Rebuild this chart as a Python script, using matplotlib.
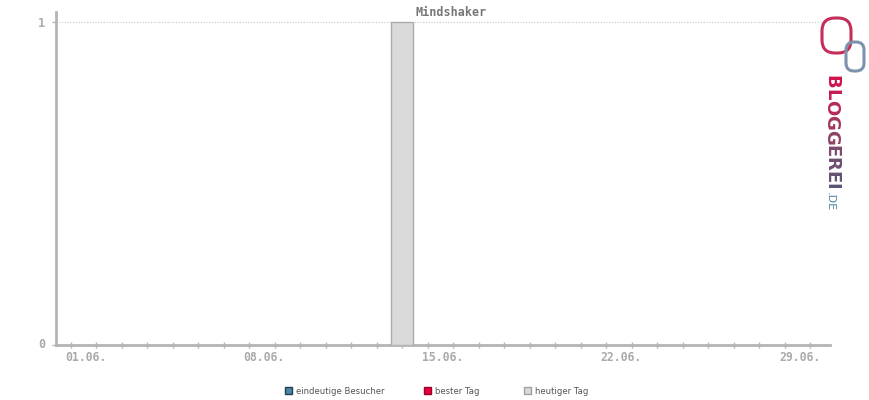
import numpy as np
import matplotlib
matplotlib.use("Agg")
import matplotlib.pyplot as plt
import matplotlib.patches as mpatches
import matplotlib.transforms as mtrans

# data
days = list(range(1, 31))
visitors = [0] * 30           # eindeutige Besucher
today_day = 14                # heutiger Tag
today_value = 1
tick_days = [1, 8, 15, 22, 29]
tick_labels = ['01.06.', '08.06.', '15.06.', '22.06.', '29.06.']
title = 'Mindshaker'
legend_labels = ['eindeutige Besucher', 'bester Tag', 'heutiger Tag']
legend_colors = ['#4d86a6', '#e8003d', '#d9d9d9']
legend_edges = ['#1f3f55', '#a0002a', '#a0a0a0']

axis_grey = '#b4b4b4'
text_grey = '#aaaaaa'

fig = plt.figure(figsize=(8.7, 4), dpi=100)
ax = fig.add_axes([56/870, 1 - 345/400, (830 - 56)/870, (345 - 12)/400])

ax.bar(days, visitors, width=0.86, color='#4d86a6')
ax.bar([today_day], [today_value], width=0.86, color='#dadada',
       edgecolor='#ababab', linewidth=1.0, zorder=3)

ax.set_xlim(0.424, 30.77)
ax.set_ylim(0, 1.031)

for s in ['top', 'right']:
    ax.spines[s].set_visible(False)
for s in ['left', 'bottom']:
    ax.spines[s].set_color(axis_grey)
    ax.spines[s].set_linewidth(2)

ax.axhline(1, color='#c8c8c8', linestyle=(0, (1, 1.5)), linewidth=0.8, zorder=1)

ax.set_yticks([0, 1])
ax.set_yticklabels(['0', '1'], family='DejaVu Sans Mono', fontsize=8.5,
                   weight='bold', color=text_grey)
ax.tick_params(axis='y', length=3, width=1, color=axis_grey, pad=5)
ax.get_yticklabels()[0].set_va('center')

ax.set_xticks(days)
ax.set_xticklabels([tick_labels[tick_days.index(d)] if d in tick_days else ''
                    for d in days],
                   family='DejaVu Sans Mono', fontsize=8.3, weight='bold',
                   color=text_grey, ha='left')
ax.tick_params(axis='x', direction='inout', length=4, width=1,
               color=axis_grey, pad=2)
shift = mtrans.ScaledTranslation(-0.055, 0, fig.dpi_scale_trans)
for lab in ax.get_xticklabels():
    lab.set_transform(lab.get_transform() + shift)

fig.text(451/870, 1 - 12/400, title, ha='center', va='center',
         family='DejaVu Sans Mono', weight='bold', fontsize=8.5, color='#777777')

# legend
leg_x = [285, 424, 524]
for x, lab, fc, ec in zip(leg_x, legend_labels, legend_colors, legend_edges):
    fig.patches.append(mpatches.Rectangle((x / 870, 1 - 394/400), 7/870, 7/400,
                                          transform=fig.transFigure,
                                          facecolor=fc, edgecolor=ec, linewidth=1))
    fig.text((x + 11) / 870, 1 - 391/400, lab, ha='left', va='center',
             fontsize=6.1, color='#555555')

# logo
fig.patches.append(mpatches.FancyBboxPatch((8.22, 3.47), 0.29, 0.35,
                   boxstyle='round,pad=0,rounding_size=0.13',
                   transform=fig.dpi_scale_trans, fill=False,
                   edgecolor='#c42e58', linewidth=2.2))
fig.patches.append(mpatches.FancyBboxPatch((8.46, 3.29), 0.18, 0.29,
                   boxstyle='round,pad=0,rounding_size=0.08',
                   transform=fig.dpi_scale_trans, fill=False,
                   edgecolor='#7d93ad', linewidth=2.2))

letters = 'BLOGGEREI'
letter_colors = ['#d0124c', '#c51c50', '#b62a58', '#a2365e', '#8e4264',
                 '#7c4a6a', '#6e4e70', '#645174', '#5a5476']
fig.canvas.draw()
r = fig.canvas.get_renderer()
y = 400 - 75
for ch, c in zip(letters, letter_colors):
    t = fig.text(831/870, y/400, ch, rotation=-90, ha='center', va='top',
                 fontsize=13, weight='bold', color=c)
    bb = t.get_window_extent(r)
    y -= bb.height * 1.0
fig.text(830/870, (y - 2)/400, '.DE', rotation=-90, ha='center', va='top',
         fontsize=8, color='#4d86a6')

fig.savefig('out.png', dpi=100)
